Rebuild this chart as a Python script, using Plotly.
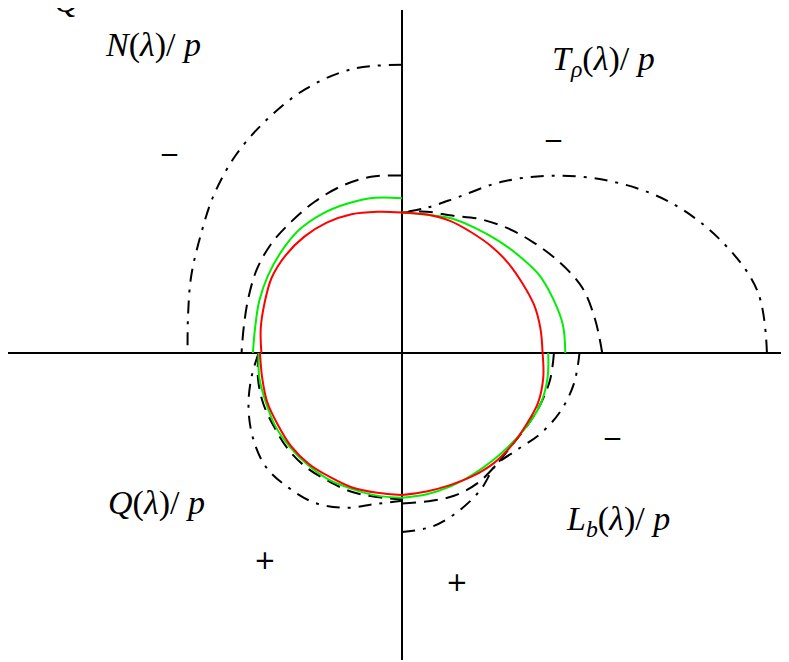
import numpy as np
import plotly.graph_objects as go

# angular samples inside each quadrant (degrees from the quadrant start)
angle_steps = [0, 10, 20, 30, 40, 50, 60, 70, 80, 90]
quadrant_start = [0, 90, 180, 270]   # Q1 (T_rho), Q2 (N), Q3 (Q), Q4 (L_b)

# radii, normalised so that the red curve is ~1
dashdot_q1 = [2.57, 2.54, 2.37, 2.15, 1.89, 1.63, 1.39, 1.17, 1.04, 0.99]
dashdot_q2 = [2.03, 2.03, 1.98, 1.90, 1.82, 1.73, 1.64, 1.58, 1.53, 1.51]
dashdot_q3 = [1.01, 1.08, 1.15, 1.21, 1.25, 1.24, 1.22, 1.16, 1.08, 1.04]
dashdot_q4 = [1.26, 1.24, 1.18, 1.11, 1.03, 1.06, 1.13, 1.19, 1.23, 1.25]

dash_q1 = [1.41, 1.38, 1.35, 1.28, 1.21, 1.15, 1.09, 1.03, 1.01, 0.99]
dash_q2 = [1.25, 1.26, 1.25, 1.23, 1.21, 1.20, 1.18, 1.15, 1.13, 1.13]
dash_q3 = [1.01, 1.03, 1.04, 1.04, 1.05, 1.05, 1.04, 1.04, 1.03, 1.03]
dash_q4 = [1.06, 1.06, 1.07, 1.06, 1.03, 1.01, 1.02, 1.04, 1.06, 1.07]

green_q1 = [1.15, 1.15, 1.13, 1.11, 1.07, 1.04, 1.02, 1.01, 0.99, 0.99]
green_q2 = [1.09, 1.11, 1.12, 1.13, 1.13, 1.11, 1.09, 1.07, 1.05, 1.05]
green_q3 = [1.01, 1.02, 1.02, 1.03, 1.03, 1.03, 1.03, 1.02, 1.02, 1.02]
green_q4 = [1.02, 1.01, 1.00, 0.99, 0.99, 1.00, 1.02, 1.04, 1.04, 1.03]

red_q1 = [0.99, 0.99, 0.99, 0.98, 0.98, 0.98, 0.98, 0.99, 0.99, 0.99]
red_q2 = [0.99, 1.01, 1.04, 1.06, 1.07, 1.07, 1.06, 1.03, 1.01, 0.99]
red_q3 = [1.00, 1.00, 1.01, 1.01, 1.02, 1.02, 1.01, 1.01, 1.00, 1.00]
red_q4 = [1.00, 0.99, 0.99, 1.00, 1.01, 1.01, 1.01, 1.02, 1.01, 0.99]

quadrant_labels = ["<i>T</i><sub><i>ρ</i></sub>(<i>λ</i>)/ <i>p</i>",
                   "<i>N</i>(<i>λ</i>)/ <i>p</i>",
                   "<i>Q</i>(<i>λ</i>)/ <i>p</i>",
                   "<i>L</i><sub><i>b</i></sub>(<i>λ</i>)/ <i>p</i>"]

curves = [
    ("dashdot", [dashdot_q1, dashdot_q2, dashdot_q3, dashdot_q4], "black", "13px,8px,3px,8px", 2),
    ("dash", [dash_q1, dash_q2, dash_q3, dash_q4], "black", "14px,8px", 2),
    ("green", [green_q1, green_q2, green_q3, green_q4], "#00ee00", "solid", 2),
    ("red", [red_q1, red_q2, red_q3, red_q4], "#ff0000", "solid", 2),
]

W, H = 789, 662
PAGE_OFF = 8           # page body margin offsets the figure
SCALE = 142.0          # pixels per unit
OX, OY = 402 - PAGE_OFF, 353 - PAGE_OFF   # origin in figure pixels

fig = go.Figure()
for name, quads, color, dash, width in curves:
    for q, radii in enumerate(quads):
        th = np.radians(np.array(angle_steps) + quadrant_start[q])
        r = np.array(radii)
        fig.add_trace(go.Scatter(
            x=r * np.cos(th), y=r * np.sin(th), mode="lines",
            line=dict(color=color, width=width, dash=dash, shape="spline", smoothing=1.0),
            showlegend=False, hoverinfo="skip"))

# axes through the origin
fig.add_shape(type="line", x0=(8 - PAGE_OFF - OX) / SCALE, x1=(W - OX) / SCALE, y0=0, y1=0,
              line=dict(color="black", width=2), layer="below")
fig.add_shape(type="line", x0=0, x1=0, y0=(OY - (10 - PAGE_OFF)) / SCALE,
              y1=(OY - (660 - PAGE_OFF)) / SCALE,
              line=dict(color="black", width=2), layer="below")

def px_ann(px, py, text, size, family="Liberation Serif"):
    px -= PAGE_OFF
    py -= PAGE_OFF
    fig.add_annotation(x=px / W, y=1 - py / H, xref="paper", yref="paper",
                       text=text, showarrow=False, xanchor="center", yanchor="middle",
                       font=dict(family=family, size=size, color="black"))

px_ann(603, 61, quadrant_labels[0], 34)
px_ann(153, 45, quadrant_labels[1], 34)
px_ann(156, 503, quadrant_labels[2], 34)
px_ann(618, 521, quadrant_labels[3], 34)
px_ann(66, 1, "<i>Q</i>", 34)

for (px, py) in [(169, 152), (553, 137), (612, 435)]:
    px_ann(px, py, "<b>–</b>", 30)
for (px, py) in [(265, 560), (457, 582)]:
    px_ann(px, py, "+", 26, "DejaVu Sans")

fig.update_layout(
    width=W, height=H, margin=dict(l=0, r=0, t=0, b=0),
    paper_bgcolor="white", plot_bgcolor="white",
    xaxis=dict(range=[-OX / SCALE, (W - OX) / SCALE], visible=False, fixedrange=True),
    yaxis=dict(range=[(OY - H) / SCALE, OY / SCALE], visible=False, fixedrange=True),
)
fig.write_html("out.html")
